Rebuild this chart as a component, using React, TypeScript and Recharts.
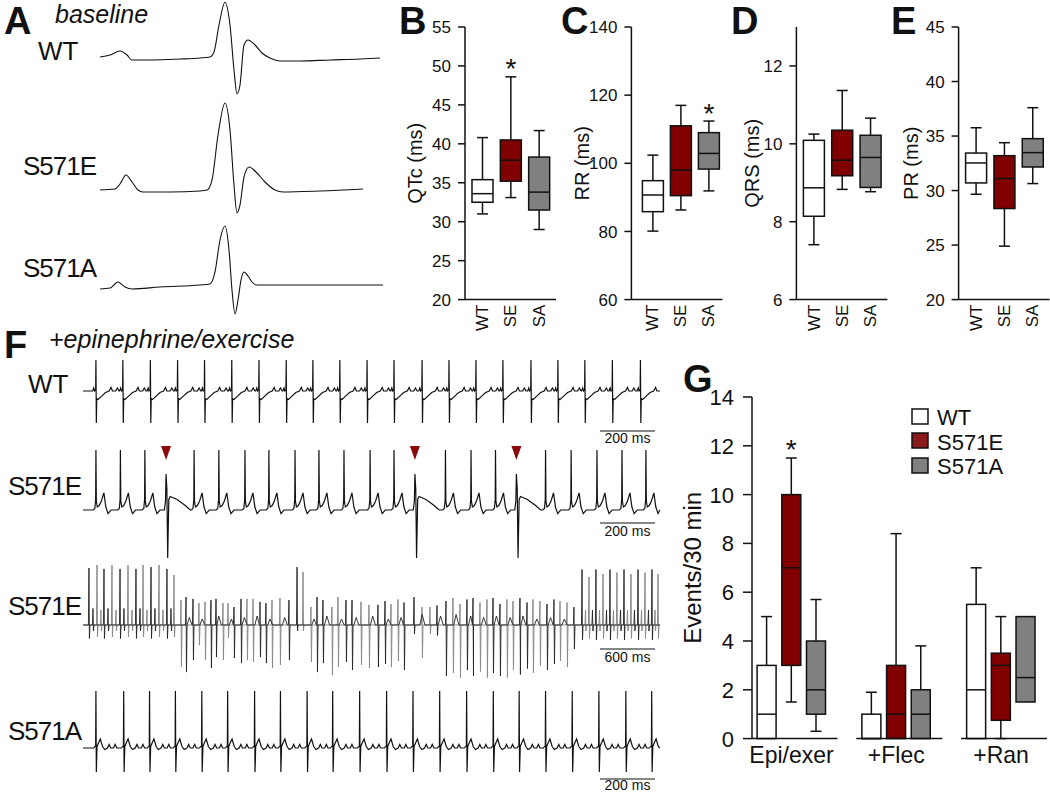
import React from "react";
import { Bar, ComposedChart, Line, LineChart, ReferenceDot, XAxis, YAxis } from "recharts";

const FONT = '"Liberation Sans", Arial, Helvetica, sans-serif';
const INK = "#111111";
const SE_RED = "#800000";
const SA_GREY = "#808080";

// ---- A: one baseline beat per genotype (ms, mV)
const wtBaseT = [0, 5, 10, 13.5, 16, 25, 40, 50, 55, 57, 59.5, 62.5, 65, 67, 68.5, 70, 72, 74, 77.5, 81, 85, 90, 100, 115, 130, 140];
const wtBaseV = [0.017, 0.05, 0.117, 0.05, -0.033, -0.033, -0.017, 0, 0.017, 0.1, 0.55, 0.93, 0.55, -0.2, -0.6, -0.45, 0.217, 0.3, 0.217, 0.083, 0, -0.05, -0.05, -0.033, -0.017, 0];
const seBaseT = [0, 7.5, 10, 13, 16, 19, 21.5, 35, 50, 53.5, 56, 59, 62.5, 65, 67, 68.5, 70, 72, 74.5, 78, 82.5, 87.5, 91.5, 110, 131.5];
const seBaseV = [0.017, 0.033, 0.117, 0.267, 0.15, 0.017, -0.017, -0.017, 0, 0.017, 0.183, 0.933, 1.467, 1.017, 0.1, -0.367, -0.233, 0.233, 0.4, 0.317, 0.15, 0.017, -0.017, 0, 0.033];
const saBaseT = [0, 5, 9, 12.5, 16, 30, 50, 55, 57.5, 60, 62.5, 64.5, 66, 67.5, 69, 70.5, 72, 74, 76, 78.5, 100, 141.5];
const saBaseV = [-0.067, -0.05, 0.05, -0.033, -0.067, -0.033, 0, 0.017, 0.217, 0.75, 0.983, 0.583, -0.083, -0.483, -0.25, 0.083, 0.217, 0.15, 0.05, 0, 0, 0];

// ---- B-E: box stats, order WT / SE / SA
const genotypes = ["WT", "SE", "SA"];
const qtcMin = [31.0, 33.1, 29.0];
const qtcQ1 = [32.5, 35.2, 31.5];
const qtcMed = [33.6, 37.9, 33.8];
const qtcQ3 = [35.4, 40.5, 38.3];
const qtcMax = [40.8, 48.6, 41.7];
const qtcSig = [false, true, false];
const rrMin = [80.1, 86.3, 91.9];
const rrQ1 = [85.8, 90.5, 98.3];
const rrMed = [90.7, 98.0, 102.9];
const rrQ3 = [94.9, 111.0, 109.0];
const rrMax = [102.4, 117.0, 112.4];
const rrSig = [false, false, true];
const qrsMin = [7.41, 8.83, 8.77];
const qrsQ1 = [8.14, 9.18, 8.88];
const qrsMed = [8.87, 9.58, 9.65];
const qrsQ3 = [10.09, 10.35, 10.22];
const qrsMax = [10.25, 11.37, 10.66];
const prMin = [29.66, 24.9, 30.64];
const prQ1 = [30.7, 28.35, 32.16];
const prMed = [32.53, 31.1, 33.48];
const prQ3 = [33.44, 33.2, 34.76];
const prMax = [35.76, 34.39, 37.6];
const noSig = [false, false, false];

// ---- F: running traces (ms, mV)
const runEnd = 2098;
const wtRunBeats = [47, 145, 245, 344, 442, 541, 640, 739, 836, 934, 1033, 1131, 1233, 1331, 1429, 1527, 1629, 1727, 1825, 1925, 2027];
const wtRunBeatT = [-12, -8, -5, -1, 0, 1.5, 3, 8, 20, 35, 48, 55, 60, 66, 72, 78, 84];
const wtRunBeatV = [0, 0.1, 0, 0.05, 1.03, -1.07, -0.25, -0.28, -0.18, -0.05, 0, 0.12, 0, 0, 0, 0.1, 0];

const seRunBeats = [47, 136, 225, 404, 494, 589, 676, 771, 858, 949, 1044, 1131, 1318, 1411, 1500, 1682, 1775, 1869, 1960, 2047];
const seRunBeatT = [-10, -4, -1, 0, 1.5, 5, 12, 20, 29, 36, 44, 55, 68];
const seRunBeatV = [0, 0.05, 0.35, 2.0, 0.3, 0.1, 0.15, 0.3, 0.57, 0.1, -0.12, 0, 0];
const sePvcBeats = [302, 1207, 1576];
const sePvcT = [-6, -2, 0, 3, 6, 10, 15, 40, 70, 88];
const sePvcV = [0, 0.3, 1.2, 0.7, -1.6, 0.35, 0.45, 0.35, 0.15, 0];

const vtEnd = 6295;
const vtSpikeT = [
  65, 109, 153, 196, 229, 273, 316, 360, 404, 447, 491, 535, 578, 622, 655, 698, 742, 785, 829, 873, 916, 960, 993,
  1069, 1124, 1200, 1265, 1331, 1396, 1451, 1527, 1582, 1647, 1724, 1789, 1855, 1931, 1996, 2062, 2149, 2247,
  2335, 2400,
  2487, 2553, 2618, 2716, 2782, 2869, 2935, 3033, 3120, 3218,
  3295, 3360, 3436, 3502, 3611, 3698, 3785, 3862, 3960, 4036, 4113, 4189, 4255, 4331, 4407, 4473, 4549, 4625, 4691, 4767, 4844, 4909, 4985, 5062, 5138, 5204, 5280, 5356,
  5444, 5482, 5520, 5558, 5596, 5635, 5673, 5711, 5749, 5787, 5825, 5864, 5902, 5940, 5978, 6016, 6055, 6093, 6131, 6169, 6207, 6240, 6273,
];
const vtSpikeUp = [
  1.9, 0.55, 2.0, 0.5, 1.87, 0.55, 2.0, 0.5, 1.87, 0.55, 2.0, 0.5, 1.87, 0.55, 2.0, 0.5, 1.93, 0.55, 2.0, 0.5, 1.87, 0.55, 1.67,
  0.83, 0.93, 0.87, 0.73, 0.77, 0.83, 0.87, 0.73, 0.73, 0.6, 0.87, 0.87, 0.87, 0.77, 0.73, 0.83, 0.9, 0.83,
  1.93, 1.77,
  0.6, 0.93, 0.83, 0.6, 0.93, 0.83, 0.83, 0.77, 0.67, 0.67,
  0.8, 0.7, 0.85, 0.75, 0.93, 0.6, 0.6, 0.65, 0.8, 0.9, 0.7, 0.85, 0.9, 0.75, 0.85, 0.9, 0.7, 0.85, 0.8, 0.9, 0.75, 0.85, 0.8, 0.7, 0.85, 0.8, 0.75, 0.6,
  1.85, 0.5, 1.6, 0.5, 1.85, 0.5, 1.7, 0.5, 1.85, 0.5, 1.75, 0.5, 1.85, 0.5, 1.7, 0.5, 1.85, 0.5, 1.75, 0.5, 1.85, 0.5, 1.7,
];
const vtSpikeDown = [
  -0.45, -0.2, -0.4, -0.2, -0.45, -0.2, -0.4, -0.2, -0.45, -0.2, -0.4, -0.2, -0.45, -0.2, -0.4, -0.2, -0.45, -0.2, -0.4, -0.2, -0.45, -0.2, -0.4,
  -1.4, -1.57, -1.17, -0.67, -1.17, -1.43, -1.07, -1.17, -0.43, -1.1, -1.27, -1.17, -1.23, -1.07, -1.27, -1.43, -1.33, -1.17,
  -0.2, -0.2,
  -1.23, -1.57, -1.27, -1.67, -1.4, -1.23, -1.5, -1.33, -1.43, -1.4,
  -1.3, -1.4, -1.2, -1.5, -0.3, -1.1, -0.3, -0.35, -1.7, -1.6, -1.75, -1.5, -1.7, -1.55, -1.75, -1.6, -1.7, -1.75, -1.5, -1.65, -1.45, -1.6, -1.35, -1.5, -1.3, -1.2, -1.4, -0.8,
  -0.5, -0.2, -0.45, -0.2, -0.5, -0.2, -0.45, -0.2, -0.5, -0.2, -0.45, -0.2, -0.5, -0.2, -0.45, -0.2, -0.5, -0.2, -0.45, -0.2, -0.5, -0.2, -0.45,
];
// small T-wave bumps riding on the tachycardia baseline
const vtBumpT = [1160, 1300, 1480, 1620, 1760, 1900, 2040, 2200, 2520, 2660, 2820, 2980, 3160, 3330, 3470, 3700, 3900, 4070, 4230, 4370, 4510, 4660, 4800, 4950, 5100, 5250];
const vtBumpV = [0.25, 0.2, 0.3, 0.2, 0.25, 0.3, 0.2, 0.25, 0.2, 0.3, 0.2, 0.25, 0.3, 0.2, 0.25, 0.35, 0.3, 0.35, 0.3, 0.25, 0.3, 0.25, 0.3, 0.2, 0.25, 0.2];

const saRunBeats = [47, 148, 242, 336, 432, 526, 624, 718, 815, 908, 1006, 1104, 1200, 1297, 1395, 1492, 1586, 1682, 1779, 1876, 1974, 2068];
const saRunBeatT = [-8, -4, -1, 0, 1.5, 4, 10, 16, 24, 32, 42, 48, 54, 64, 70, 76, 84];
const saRunBeatV = [0, 0.05, 0.05, 1.9, -0.8, 0.05, 0.18, 0.3, 0.05, -0.05, 0, 0.12, 0, 0, 0.12, 0, 0];

// ---- G: events per 30 min, by treatment
const treatments = ["Epi/exer", "+Flec", "+Ran"];
const wtEvMin = [0, 0, 0];
const wtEvQ1 = [0, 0, 0];
const wtEvMed = [1, 0, 2];
const wtEvQ3 = [3, 1, 5.5];
const wtEvMax = [5, 1.9, 7];
const seEvMin = [1.5, 0, 0];
const seEvQ1 = [3, 0, 0.75];
const seEvMed = [7, 1, 3];
const seEvQ3 = [10, 3, 3.5];
const seEvMax = [11.5, 8.4, 5];
const seEvSig = [true, false, false];
const saEvMin = [0.3, 0, 1.5];
const saEvQ1 = [1, 0, 1.5];
const saEvMed = [2, 1, 2.5];
const saEvQ3 = [4, 2, 5];
const saEvMax = [5.7, 3.8, 5];

type Pt = { t: number; v: number };
type Stats = { min: number; q1: number; med: number; q3: number; max: number; sig: boolean };

const zip = (t: number[], v: number[]): Pt[] => t.map((x, i) => ({ t: x, v: v[i] }));

function buildTrace(beats: number[], tT: number[], tV: number[], end: number): Pt[] {
  const pts: Pt[] = [{ t: 0, v: 0 }, { t: end, v: 0 }];
  beats.forEach((b) =>
    tT.forEach((dt, i) => {
      const t = b + dt;
      if (t > 0 && t < end) pts.push({ t, v: tV[i] });
    })
  );
  return pts.sort((a, b) => a.t - b.t);
}

function buildSpikes(keep: (i: number) => boolean, withBumps: boolean): Pt[] {
  const pts: Pt[] = [{ t: 0, v: 0 }];
  vtSpikeT.forEach((t, i) => {
    if (!keep(i)) return;
    pts.push({ t: t - 6, v: 0 }, { t, v: vtSpikeUp[i] }, { t: t + 5, v: vtSpikeDown[i] }, { t: t + 11, v: 0 });
  });
  if (withBumps)
    vtBumpT.forEach((t, i) => pts.push({ t: t - 25, v: 0 }, { t, v: vtBumpV[i] }, { t: t + 30, v: 0 }));
  pts.push({ t: vtEnd, v: 0 });
  return pts.sort((a, b) => a.t - b.t);
}

const stats = (mn: number[], q1: number[], md: number[], q3: number[], mx: number[], sig: boolean[], i: number): Stats => ({
  min: mn[i], q1: q1[i], med: md[i], q3: q3[i], max: mx[i], sig: sig[i],
});

const fillFor: Record<string, string> = { WT: "#ffffff", SE: SE_RED, SA: SA_GREY, wt: "#ffffff", se: SE_RED, sa: SA_GREY };

function boxShape(key: string | null) {
  return (props: any) => {
    const { x, y, width, height, payload } = props;
    const s: Stats = key ? payload[key] : payload.s;
    const fill = fillFor[key ?? payload.name];
    const top = Math.min(y, y + height);
    const h = Math.abs(height);
    const span = s.max - s.min || 1;
    const py = (v: number) => top + ((s.max - v) / span) * h;
    const cx = x + width / 2;
    const cap = 5.5;
    const ln = { stroke: INK, strokeWidth: 1.5 };
    return (
      <g>
        {s.max > s.q3 && (
          <>
            <line x1={cx} x2={cx} y1={py(s.q3)} y2={py(s.max)} {...ln} />
            <line x1={cx - cap} x2={cx + cap} y1={py(s.max)} y2={py(s.max)} {...ln} />
          </>
        )}
        {s.min < s.q1 && (
          <>
            <line x1={cx} x2={cx} y1={py(s.q1)} y2={py(s.min)} {...ln} />
            <line x1={cx - cap} x2={cx + cap} y1={py(s.min)} y2={py(s.min)} {...ln} />
          </>
        )}
        <rect x={x} y={py(s.q3)} width={width} height={py(s.q1) - py(s.q3)} fill={fill} {...ln} />
        <line x1={x} x2={x + width} y1={py(s.med)} y2={py(s.med)} {...ln} />
        {s.sig && (
          <text x={cx} y={py(s.max) + 1.5} textAnchor="middle" fontSize={28} fontFamily={FONT} fill={INK}>
            *
          </text>
        )}
      </g>
    );
  };
}

const RotatedTick = (props: any) => {
  const { x, y, payload } = props;
  return (
    <text x={x} y={y} transform={`rotate(-90 ${x} ${y})`} textAnchor="end" dy="0.35em" fontSize={17} fontFamily={FONT} fill={INK}>
      {payload.value}
    </text>
  );
};

const YTick = (props: any) => {
  const { x, y, payload, size } = props;
  return (
    <text x={x} y={y} textAnchor="end" dy="0.36em" fontSize={size ?? 17} fontFamily={FONT} fill={INK}>
      {payload.value}
    </text>
  );
};

const AxisTitle = (props: any) => {
  const { viewBox, text, size } = props;
  const cx = viewBox.x + viewBox.width / 2;
  const cy = viewBox.y + viewBox.height / 2;
  return (
    <text x={cx} y={cy} transform={`rotate(-90 ${cx} ${cy})`} textAnchor="middle" dy="0.35em" fontSize={size} fontFamily={FONT} fill={INK}>
      {text}
    </text>
  );
};

const GroupTick = (props: any) => {
  const { x, y, payload } = props;
  return (
    <g>
      <line x1={x - 40} x2={x + 46} y1={y} y2={y} stroke={INK} strokeWidth={1.5} />
      <text x={x} y={y + 24} textAnchor="middle" fontSize={23} fontFamily={FONT} fill={INK}>
        {payload.value}
      </text>
    </g>
  );
};

const PLOT_TOP = 27;
const PLOT_H = 272.6;

function BoxPanel(p: {
  axisX: number; labelX: number; title: string; rows: { name: string; s: Stats }[];
  domain: [number, number]; ticks: number[]; padL?: number; padR?: number;
}) {
  const yw = 2 * (p.axisX - p.labelX);
  const mTop = 20;
  return (
    <div style={{ position: "absolute", left: p.axisX - yw, top: PLOT_TOP - mTop }}>
      <ComposedChart width={yw + 91 + 6} height={mTop + PLOT_H + 40} data={p.rows} margin={{ top: mTop, right: 6, bottom: 0, left: 0 }}>
        <XAxis dataKey="name" type="category" height={40} interval={0} padding={{ left: p.padL ?? 3, right: p.padR ?? 3 }}
          tickLine={false} tickSize={0} tickMargin={5} axisLine={{ stroke: INK, strokeWidth: 1.5 }} tick={<RotatedTick />} />
        <YAxis type="number" domain={p.domain} ticks={p.ticks} interval={0} width={yw} tickSize={7} tickMargin={7}
          axisLine={{ stroke: INK, strokeWidth: 1.5 }} tickLine={{ stroke: INK, strokeWidth: 1.5 }}
          tick={<YTick size={17} />}
          label={<AxisTitle text={p.title} size={20} />} />
        <Bar dataKey={(d: any) => [d.s.min, d.s.max]} barSize={21} shape={boxShape(null)} isAnimationActive={false} />
      </ComposedChart>
    </div>
  );
}

function Trace(p: {
  box: [number, number, number, number]; x0: number; kx: number; yBase: number; ky: number;
  lines: { data: Pt[]; stroke: string; width?: number }[]; curve?: "linear" | "monotone"; children?: React.ReactNode;
}) {
  const [l, t, r, b] = p.box;
  return (
    <div style={{ position: "absolute", left: l, top: t }}>
      <LineChart width={r - l} height={b - t} margin={{ top: 0, right: 0, bottom: 0, left: 0 }}>
        <XAxis type="number" dataKey="t" domain={[(l - p.x0) / p.kx, (r - p.x0) / p.kx]} hide allowDataOverflow />
        <YAxis type="number" domain={[(p.yBase - b) / p.ky, (p.yBase - t) / p.ky]} hide allowDataOverflow />
        {p.lines.map((ln, i) => (
          <Line key={i} data={ln.data} dataKey="v" type={p.curve ?? "linear"} dot={false} stroke={ln.stroke}
            strokeWidth={ln.width ?? 1.2} isAnimationActive={false} />
        ))}
        {p.children}
      </LineChart>
    </div>
  );
}

const txt = (x: number, y: number, s: string, extra: any = {}) => (
  <text x={x} y={y} fontFamily={FONT} fill={INK} fontSize={26} {...extra}>
    {s}
  </text>
);

export default function App() {
  const rowsOf = (mn: number[], q1: number[], md: number[], q3: number[], mx: number[], sig: boolean[]) =>
    genotypes.map((g, i) => ({ name: g, s: stats(mn, q1, md, q3, mx, sig, i) }));

  const gRows = treatments.map((g, i) => ({
    name: g,
    wt: stats(wtEvMin, wtEvQ1, wtEvMed, wtEvQ3, wtEvMax, noSig, i),
    se: stats(seEvMin, seEvQ1, seEvMed, seEvQ3, seEvMax, seEvSig, i),
    sa: stats(saEvMin, saEvQ1, saEvMed, saEvQ3, saEvMax, noSig, i),
  }));

  const seRun = [...buildTrace(seRunBeats, seRunBeatT, seRunBeatV, runEnd), ...buildTrace(sePvcBeats, sePvcT, sePvcV, runEnd)].sort(
    (a, b) => a.t - b.t
  );

  const kxRun = 55 / 200;
  const kxVt = 55 / 600;
  const gTop = 20;

  return (
    <div style={{ position: "absolute", left: 0, top: 0, width: 1050, height: 795, background: "#fff", fontFamily: FONT }}>
      {/* A */}
      <Trace box={[96, 0, 386, 100]} x0={100} kx={2} yBase={58} ky={60} curve="monotone" lines={[{ data: zip(wtBaseT, wtBaseV), stroke: INK, width: 1.1 }]} />
      <Trace box={[96, 96, 386, 222]} x0={100} kx={2} yBase={191} ky={60} curve="monotone" lines={[{ data: zip(seBaseT, seBaseV), stroke: INK, width: 1.1 }]} />
      <Trace box={[96, 218, 386, 322]} x0={100} kx={2} yBase={285} ky={60} curve="monotone" lines={[{ data: zip(saBaseT, saBaseV), stroke: INK, width: 1.1 }]} />

      {/* B-E */}
      <BoxPanel axisX={465} labelX={415} title="QTc (ms)" rows={rowsOf(qtcMin, qtcQ1, qtcMed, qtcQ3, qtcMax, qtcSig)}
        domain={[20, 55]} ticks={[20, 25, 30, 35, 40, 45, 50, 55]} />
      <BoxPanel axisX={631.7} labelX={582} title="RR (ms)" rows={rowsOf(rrMin, rrQ1, rrMed, rrQ3, rrMax, rrSig)}
        domain={[60, 140]} ticks={[60, 80, 100, 120, 140]} padL={7} padR={0} />
      <BoxPanel axisX={796.7} labelX={752} title="QRS (ms)" rows={rowsOf(qrsMin, qrsQ1, qrsMed, qrsQ3, qrsMax, noSig)}
        domain={[6, 13]} ticks={[6, 8, 10, 12]} />
      <BoxPanel axisX={958.3} labelX={911} title="PR (ms)" rows={rowsOf(prMin, prQ1, prMed, prQ3, prMax, noSig)}
        domain={[20, 45]} ticks={[20, 25, 30, 35, 40, 45]} />

      {/* F */}
      <Trace box={[80, 352, 662, 430]} x0={83} kx={kxRun} yBase={391} ky={30}
        lines={[{ data: buildTrace(wtRunBeats, wtRunBeatT, wtRunBeatV, runEnd), stroke: INK }]} />
      <Trace box={[80, 440, 662, 565]} x0={83} kx={kxRun} yBase={510} ky={30} lines={[{ data: seRun, stroke: INK }]}>
        {sePvcBeats.map((t) => (
          <ReferenceDot key={t} x={t} y={1.9} r={0} ifOverflow="visible"
            shape={(d: any) => <polygon points={`${d.cx - 5},${d.cy - 7} ${d.cx + 5},${d.cy - 7} ${d.cx},${d.cy + 7}`} fill="#8b0a0a" />} />
        ))}
      </Trace>
      <Trace box={[80, 558, 662, 685]} x0={83} kx={kxVt} yBase={625} ky={30}
        lines={[
          { data: buildSpikes((i) => Math.floor(i / 2) % 2 === 1, false), stroke: "#8a8a8a", width: 1 },
          { data: buildSpikes((i) => Math.floor(i / 2) % 2 === 0, true), stroke: "#222", width: 0.9 },
        ]} />
      <Trace box={[80, 682, 662, 782]} x0={83} kx={kxRun} yBase={748} ky={30}
        lines={[{ data: buildTrace(saRunBeats, saRunBeatT, saRunBeatV, runEnd), stroke: INK }]} />

      {/* G */}
      <div style={{ position: "absolute", left: 752 - 118, top: 397.4 - gTop }}>
        <ComposedChart width={118 + 290 + 8} height={gTop + 341.6 + 45} data={gRows} margin={{ top: gTop, right: 8, bottom: 0, left: 0 }} barGap={5.7}>
          <XAxis dataKey="name" type="category" interval={0} height={45} padding={{ left: -12.9, right: -11.4 }}
            axisLine={false} tickLine={false} tickSize={0} tickMargin={0} tick={<GroupTick />} />
          <YAxis type="number" domain={[0, 14]} ticks={[0, 2, 4, 6, 8, 10, 12, 14]} interval={0} width={118} tickSize={9} tickMargin={9}
            axisLine={{ stroke: INK, strokeWidth: 1.5 }} tickLine={{ stroke: INK, strokeWidth: 1.5 }}
            tick={<YTick size={22} />}
            label={<AxisTitle text="Events/30 min" size={24} />} />
          <Bar dataKey={(d: any) => [d.wt.min, d.wt.max]} barSize={19} shape={boxShape("wt")} isAnimationActive={false} />
          <Bar dataKey={(d: any) => [d.se.min, d.se.max]} barSize={19} shape={boxShape("se")} isAnimationActive={false} />
          <Bar dataKey={(d: any) => [d.sa.min, d.sa.max]} barSize={19} shape={boxShape("sa")} isAnimationActive={false} />
        </ComposedChart>
      </div>

      {/* labels, scale bars, legend */}
      <svg width={1050} height={795} style={{ position: "absolute", left: 0, top: 0, pointerEvents: "none" }}>
        {txt(4, 34, "A", { fontSize: 38, fontWeight: "bold" })}
        {txt(399, 34, "B", { fontSize: 38, fontWeight: "bold" })}
        {txt(561, 34, "C", { fontSize: 38, fontWeight: "bold" })}
        {txt(731, 34, "D", { fontSize: 38, fontWeight: "bold" })}
        {txt(891, 34, "E", { fontSize: 38, fontWeight: "bold" })}
        {txt(4, 358, "F", { fontSize: 38, fontWeight: "bold" })}
        {txt(683, 392, "G", { fontSize: 38, fontWeight: "bold" })}
        {txt(55, 23, "baseline", { fontSize: 25, fontStyle: "italic" })}
        {txt(49, 348, "+epinephrine/exercise", { fontSize: 25, fontStyle: "italic" })}

        {txt(38, 60, "WT")}
        {txt(23, 175, "S571E", { letterSpacing: -1 })}
        {txt(23, 277, "S571A", { letterSpacing: -1 })}
        {txt(28, 393, "WT")}
        {txt(8, 495, "S571E", { letterSpacing: -1 })}
        {txt(8, 615, "S571E", { letterSpacing: -1 })}
        {txt(8, 740, "S571A", { letterSpacing: -1 })}

        {[
          [431, 443, "200 ms"],
          [523, 536, "200 ms"],
          [649, 662, "600 ms"],
          [779, 790, "200 ms"],
        ].map(([y, ty, s]) => (
          <g key={String(y)}>
            <line x1={600} x2={655} y1={y as number} y2={y as number} stroke={INK} strokeWidth={1.2} />
            {txt(627.5, ty as number, s as string, { fontSize: 14, textAnchor: "middle" })}
          </g>
        ))}

        {[
          [409, 425, "WT", "#ffffff"],
          [433, 450, "S571E", "#8b1a1a"],
          [458, 474, "S571A", SA_GREY],
        ].map(([y, ty, s, c]) => (
          <g key={s as string}>
            <rect x={912} y={y as number} width={16} height={15} fill={c as string} stroke={INK} strokeWidth={1.5} />
            {txt(937, ty as number, s as string, { fontSize: 22 })}
          </g>
        ))}
      </svg>
    </div>
  );
}
